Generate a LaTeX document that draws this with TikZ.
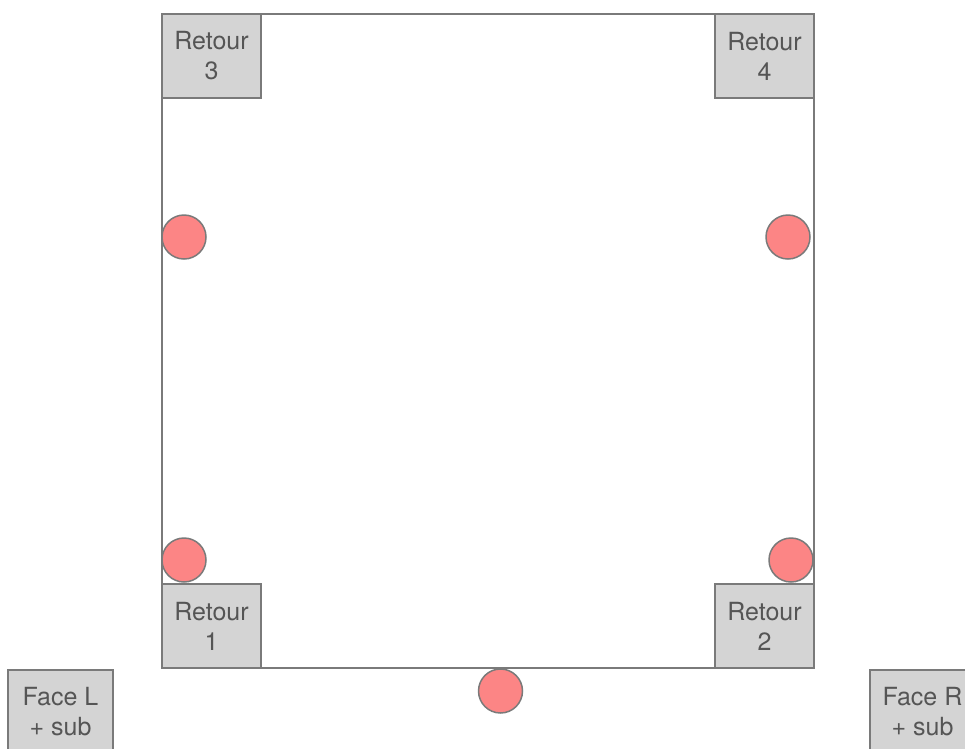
\documentclass[tikz,border=0pt]{standalone}
\usepackage{fontspec}
\setmainfont{TeX Gyre Heros}
\definecolor{edgegray}{HTML}{7A7A7A}
\definecolor{boxfill}{HTML}{D4D4D4}
\definecolor{txtgray}{HTML}{555555}
\definecolor{dotred}{HTML}{FC8585}
\tikzset{
  retourbox/.style={draw=edgegray, line width=1.5pt, fill=boxfill, minimum width=99pt, minimum height=84pt,
    inner sep=0pt, align=center, text=txtgray, font=\fontsize{25}{30}\selectfont},
  dot/.style={circle, draw=edgegray, line width=1.5pt, fill=dotred, minimum size=44pt, inner sep=0pt},
  frame/.style={draw=edgegray, line width=1.5pt, minimum width=652pt, minimum height=654pt, inner sep=0pt}
}
\begin{document}
\begin{tikzpicture}[x=1pt,y=-1pt]
\path[use as bounding box] (0,0) rectangle (965,748);
\clip (0,0) rectangle (965,748);
\node[frame] (sq) at (488,341) {};
\node[retourbox] (r3) at (211.5,56) {Retour\\3};
\node[retourbox] (r4) at (764.5,56) {Retour\\4};
\node[retourbox] (r1) at (211.5,626) {Retour\\1};
\node[retourbox] (r2) at (764.5,626) {Retour\\2};
\node[retourbox, minimum width=105pt] (fl) at (60.5,712) {Face L\\+ sub};
\node[retourbox, minimum width=105pt] (fr) at (922.5,712) {Face R\\+ sub};
\node[dot] (d1) at (184,237) {};
\node[dot] (d2) at (788,237) {};
\node[dot] (d3) at (184,560) {};
\node[dot] (d4) at (791,560) {};
\node[dot] (d5) at (500.5,691) {};
\end{tikzpicture}
\end{document}
